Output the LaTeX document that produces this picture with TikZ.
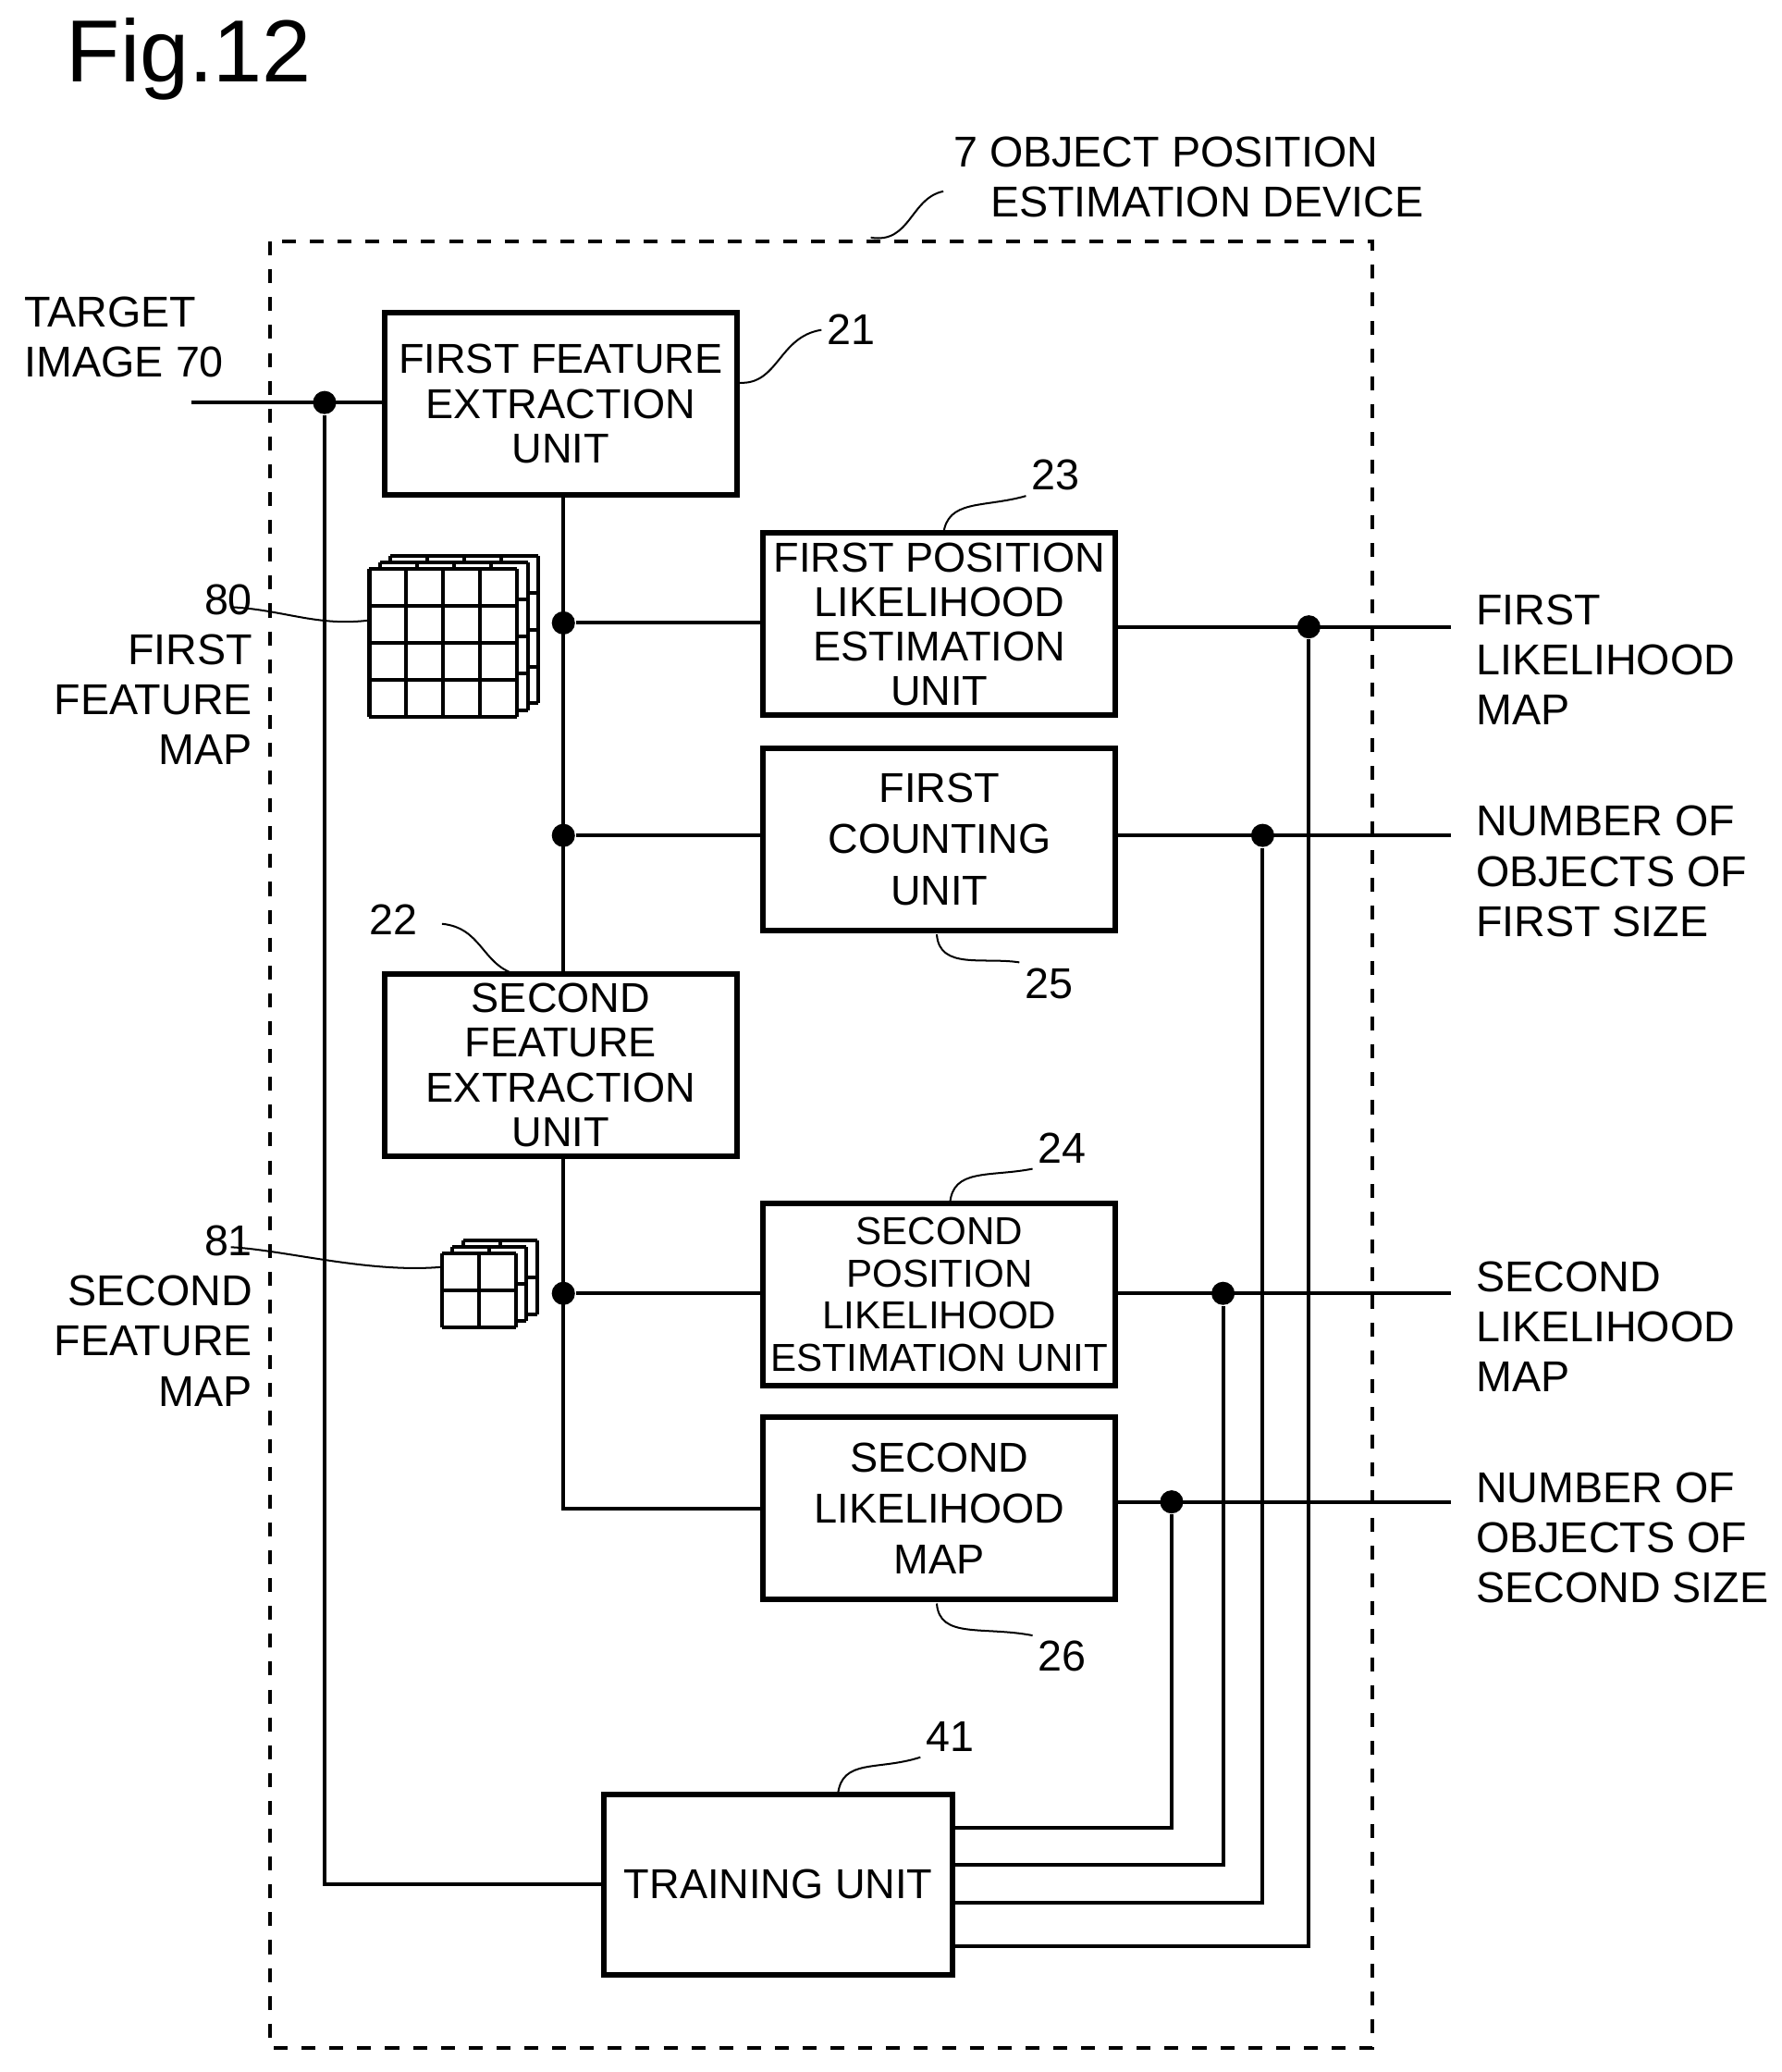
\documentclass[tikz,border=0pt]{standalone}
\usepackage{fontspec}
\setmainfont{Liberation Sans}
\usetikzlibrary{positioning}
\tikzset{
  unit/.style={draw, very thick, minimum width=2.67cm, minimum height=1.38cm, align=center, inner sep=1pt, font=\fontsize{9}{9.6}\selectfont},
  lbl/.style={align=left, font=\fontsize{9.3}{10.8}\selectfont, inner sep=0pt},
  num/.style={font=\fontsize{9.3}{10}\selectfont, inner sep=1pt},
  dot/.style={circle, fill, inner sep=0pt, minimum size=5pt},
  wire/.style={thick},
  lead/.style={thin}
}
\newcommand{\gridmap}[5]{% x, y (top-left), cell, n, layers
  \foreach \k in {#5,...,0}{
    \fill[white] ({#1+\k*8},{#2-\k*5}) rectangle ++({#3*#4},{#3*#4});
    \foreach \i in {0,...,#4}{
      \draw[thick] ({#1+\k*8+\i*#3},{#2-\k*5}) -- ++(0,{#3*#4});
      \draw[thick] ({#1+\k*8},{#2-\k*5+\i*#3}) -- ++({#3*#4},0);
    }
  }}
\begin{document}
\begin{tikzpicture}[x=0.01cm,y=-0.01cm]
    \useasboundingbox (0,0) rectangle (1350,1570);
    \node[anchor=west, font=\fontsize{19}{21}\selectfont] (fig) at (38,45) {Fig.12};

    % device frame
    \draw[dashed, thick] (205,183) rectangle (1040,1552);
    \node[lbl, anchor=north west] (dev) at (722,103) {7 OBJECT POSITION\\\hspace{0.28cm}ESTIMATION DEVICE};
    \draw[lead] (660,180) .. controls (690,185) and (690,150) .. (715,145);

    % units
    \node[unit] (fe1) at (425,306) {FIRST FEATURE\\EXTRACTION\\UNIT};
    \node[unit] (pl1) at (712,473) {FIRST POSITION\\LIKELIHOOD\\ESTIMATION\\UNIT};
    \node[unit, font=\fontsize{9}{11}\selectfont] (cn1) at (712,636) {FIRST\\COUNTING\\UNIT};
    \node[unit] (fe2) at (425,807) {SECOND\\FEATURE\\EXTRACTION\\UNIT};
    \node[unit, font=\fontsize{8.4}{9.1}\selectfont] (pl2) at (712,981) {SECOND\\POSITION\\LIKELIHOOD\\ESTIMATION UNIT};
    \node[unit, font=\fontsize{9}{11}\selectfont] (cn2) at (712,1143) {SECOND\\LIKELIHOOD\\MAP};
    \node[unit, minimum width=2.64cm, minimum height=1.37cm] (tr) at (590,1428) {TRAINING UNIT};

    % reference numbers
    \node[num] (n21) at (645,250) {21};
    \draw[lead] (560,290) .. controls (590,292) and (590,255) .. (n21.west);
    \node[num] (n23) at (800,360) {23};
    \draw[lead] (715,405) .. controls (718,378) and (745,385) .. (n23.south west);
    \node[num] (n25) at (795,745) {25};
    \draw[lead] (710,708) .. controls (712,735) and (745,725) .. (n25.north west);
    \node[num] (n22) at (298,697) {22};
    \draw[lead] (335,700) .. controls (365,703) and (365,730) .. (390,738);
    \node[num] (n24) at (805,870) {24};
    \draw[lead] (720,912) .. controls (722,885) and (750,892) .. (n24.south west);
    \node[num] (n26) at (805,1255) {26};
    \draw[lead] (710,1215) .. controls (712,1242) and (745,1232) .. (n26.north west);
    \node[num] (n41) at (720,1316) {41};
    \draw[lead] (635,1360) .. controls (638,1332) and (665,1342) .. (n41.south west);

    % feature maps
    \gridmap{280}{431}{28}{4}{2}
    \gridmap{335}{950}{28}{2}{2}
    \node[lbl, align=right, anchor=north east] (m80) at (192,442) {80\hspace{0.18cm}\\FIRST\\FEATURE\\MAP};
    \draw[lead] (175,460) .. controls (215,462) and (240,475) .. (280,470);
    \node[lbl, align=right, anchor=north east] (m81) at (192,928) {81\hspace{0.18cm}\\SECOND\\FEATURE\\MAP};
    \draw[lead] (175,945) .. controls (215,947) and (280,965) .. (335,960);

    % input
    \node[lbl, anchor=north west] (img) at (18,224) {TARGET\\IMAGE 70};
    \coordinate (in) at (145,305);
    \node[dot] (d0) at (246,305) {};
    \draw[wire] (in) -- (fe1.west |- in);
    \draw[wire] (d0) |- (tr.west);

    % bus
    \node[dot] (d1) at (427,472) {};
    \node[dot] (d2) at (427,633) {};
    \node[dot] (d3) at (427,980) {};
    \draw[wire] (fe1.south -| d1) -- (fe2.north -| d1);
    \draw[wire] (d1) -- (pl1.west |- d1);
    \draw[wire] (d2) -- (cn1.west |- d2);
    \draw[wire] (fe2.south -| d3) |- (cn2.west);
    \draw[wire] (d3) -- (pl2.west |- d3);

    % outputs
    \node[dot] (o1) at (992,475) {};
    \node[dot] (o2) at (957,633) {};
    \node[dot] (o3) at (927,980) {};
    \node[dot] (o4) at (888,1138) {};
    \coordinate (e1) at (1100,475);
    \coordinate (e2) at (1100,633);
    \coordinate (e3) at (1100,980);
    \coordinate (e4) at (1100,1138);
    \draw[wire] (pl1.east |- o1) -- (e1);
    \draw[wire] (cn1.east |- o2) -- (e2);
    \draw[wire] (pl2.east |- o3) -- (e3);
    \draw[wire] (cn2.east |- o4) -- (e4);
    \node[lbl, anchor=north west] (l1) at (1118,450) {FIRST\\LIKELIHOOD\\MAP};
    \node[lbl, anchor=north west] (l2) at (1118,610) {NUMBER OF\\OBJECTS OF\\FIRST SIZE};
    \node[lbl, anchor=north west] (l3) at (1118,955) {SECOND\\LIKELIHOOD\\MAP};
    \node[lbl, anchor=north west] (l4) at (1118,1115) {NUMBER OF\\OBJECTS OF\\SECOND SIZE};

    % training feedback
    \draw[wire] (tr.east |- 0,1385) -| (o4);
    \draw[wire] (tr.east |- 0,1413) -| (o3);
    \draw[wire] (tr.east |- 0,1442) -| (o2);
    \draw[wire] (tr.east |- 0,1475) -| (o1);
\end{tikzpicture}
\end{document}
